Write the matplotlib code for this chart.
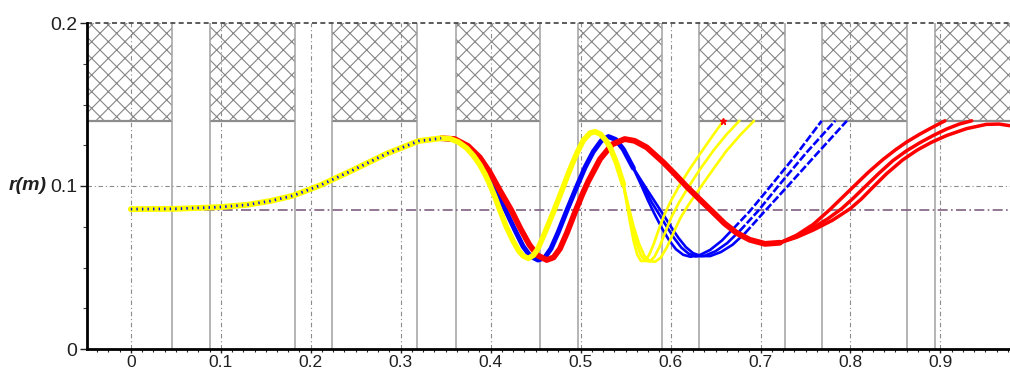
import matplotlib
matplotlib.use("Agg")
import matplotlib.pyplot as plt
from matplotlib.patches import Rectangle

plt.rcParams['font.family'] = ['Liberation Sans', 'DejaVu Sans']
plt.rcParams['hatch.linewidth'] = 0.8

# ---------------- data ----------------
x_tick_values = [0, 0.1, 0.2, 0.3, 0.4, 0.5, 0.6, 0.7, 0.8, 0.9]
x_tick_labels = ["0", "0.1", "0.2", "0.3", "0.4", "0.5", "0.6", "0.7", "0.8", "0.9"]
y_tick_values = [0, 0.1, 0.2]
y_tick_labels = ["0", "0.1", "0.2"]

# hatched (forbidden) zones above r = 0.14
hatch_left = [-0.0487, 0.088, 0.224, 0.361, 0.497, 0.632, 0.768, 0.8942]
hatch_right = [0.0458, 0.182, 0.318, 0.4547, 0.5906, 0.7267, 0.8632, 0.9773]
hatch_bottom = 0.14
reference_radius = 0.085

# common start of all trajectories
common_x = [0.0, 0.05, 0.10, 0.13, 0.155, 0.18, 0.21, 0.247, 0.285, 0.32, 0.345]
common_y = [0.0858, 0.0860, 0.0871, 0.0885, 0.0908, 0.0940, 0.1003, 0.1098, 0.1200, 0.1276, 0.1293]

# yellow group
yellow_trunk_x = [0.345, 0.355, 0.364, 0.3734, 0.381, 0.388, 0.394, 0.399, 0.405, 0.410, 0.417,
                  0.4252, 0.4315, 0.4363, 0.442, 0.4475, 0.452, 0.4585, 0.4645, 0.4705, 0.4808,
                  0.488, 0.4957, 0.503, 0.5105, 0.516, 0.522, 0.528, 0.5327, 0.540, 0.5475]
yellow_trunk_y = [0.1293, 0.1290, 0.1270, 0.1232, 0.1185, 0.1130, 0.1070, 0.1010, 0.0930, 0.0855, 0.0755,
                  0.0660, 0.0600, 0.0570, 0.0556, 0.0575, 0.0610, 0.0690, 0.0770, 0.0850, 0.0996,
                  0.1100, 0.1200, 0.1280, 0.1325, 0.1333, 0.1318, 0.1280, 0.1240, 0.1140, 0.1010]
yellow_branch_x = [
    [0.5475, 0.551, 0.555, 0.559, 0.563, 0.567, 0.571, 0.576, 0.581, 0.587, 0.5935, 0.600,
     0.610, 0.622, 0.635, 0.647, 0.6587],
    [0.5475, 0.552, 0.557, 0.562, 0.567, 0.572, 0.577, 0.582, 0.588, 0.594, 0.601, 0.609,
     0.620, 0.633, 0.648, 0.662, 0.6765],
    [0.5475, 0.553, 0.559, 0.565, 0.571, 0.577, 0.583, 0.589, 0.596, 0.603, 0.611, 0.620,
     0.633, 0.647, 0.662, 0.677, 0.6928],
]
yellow_branch_y = [
    [0.1010, 0.0900, 0.0775, 0.0660, 0.0578, 0.0540, 0.0540, 0.0575, 0.0640, 0.0735, 0.0830, 0.0905,
     0.1005, 0.1110, 0.1215, 0.1310, 0.1400],
    [0.1010, 0.0890, 0.0760, 0.0650, 0.0575, 0.0540, 0.0538, 0.0565, 0.0630, 0.0715, 0.0810, 0.0895,
     0.0995, 0.1105, 0.1220, 0.1315, 0.1400],
    [0.1010, 0.0880, 0.0750, 0.0645, 0.0570, 0.0538, 0.0536, 0.0560, 0.0625, 0.0710, 0.0805, 0.0885,
     0.0990, 0.1100, 0.1215, 0.1310, 0.1400],
]

# blue group
blue_trunk_x = [0.345, 0.360, 0.3734, 0.386, 0.397, 0.408, 0.417, 0.427, 0.436, 0.444, 0.4527,
                0.460, 0.467, 0.475, 0.4845, 0.4957, 0.505, 0.514, 0.523, 0.531, 0.539, 0.5475, 0.5586]
blue_trunk_y = [0.1293, 0.1285, 0.1240, 0.1165, 0.1070, 0.0950, 0.0847, 0.0730, 0.0630, 0.0570, 0.0546,
                0.0560, 0.0615, 0.0715, 0.0847, 0.0996, 0.1115, 0.1210, 0.1278, 0.1303, 0.1285, 0.1225, 0.1110]
blue_branch_x = [
    [0.5586, 0.567, 0.575, 0.582, 0.590, 0.598, 0.606, 0.614, 0.622, 0.632, 0.644, 0.657, 0.670,
     0.688, 0.7105, 0.740, 0.768],
    [0.5586, 0.570, 0.579, 0.588, 0.596, 0.604, 0.612, 0.620, 0.628, 0.638, 0.650, 0.663, 0.677,
     0.697, 0.719, 0.751, 0.783],
    [0.5586, 0.573, 0.583, 0.593, 0.601, 0.609, 0.617, 0.625, 0.634, 0.644, 0.656, 0.669, 0.683,
     0.703, 0.7295, 0.763, 0.796],
]
blue_branch_y = [
    [0.1110, 0.1010, 0.0910, 0.0830, 0.0745, 0.0670, 0.0612, 0.0578, 0.0566, 0.0575, 0.0608, 0.0665, 0.0740,
     0.0845, 0.0995, 0.1195, 0.1400],
    [0.1110, 0.0995, 0.0900, 0.0820, 0.0748, 0.0680, 0.0622, 0.0585, 0.0568, 0.0572, 0.0600, 0.0650, 0.0725,
     0.0845, 0.0995, 0.1205, 0.1400],
    [0.1110, 0.0985, 0.0900, 0.0815, 0.0745, 0.0680, 0.0625, 0.0588, 0.0570, 0.0570, 0.0595, 0.0640, 0.0712,
     0.0835, 0.0995, 0.1200, 0.1400],
]

# red group
red_trunk_x = [0.345, 0.360, 0.375, 0.388, 0.399, 0.410, 0.4234, 0.433, 0.443, 0.452, 0.4623, 0.470,
               0.477, 0.485, 0.4938, 0.502, 0.5086, 0.5216, 0.535, 0.549, 0.560, 0.5735, 0.592, 0.605,
               0.618, 0.632, 0.647, 0.660, 0.6735, 0.688, 0.705, 0.7216]
red_trunk_y = [0.1293, 0.1288, 0.1245, 0.1175, 0.1085, 0.0975, 0.0847, 0.0740, 0.0640, 0.0575, 0.0546, 0.0562,
               0.0615, 0.0715, 0.0840, 0.0950, 0.1030, 0.1165, 0.1255, 0.1288, 0.1277, 0.1237, 0.1145, 0.1072,
               0.0996, 0.0920, 0.0840, 0.0770, 0.0712, 0.0670, 0.0645, 0.0652]
red_branch_x = [
    [0.7216, 0.740, 0.7587, 0.777, 0.791, 0.805, 0.820, 0.836, 0.850, 0.8625, 0.877, 0.891, 0.905],
    [0.7216, 0.740, 0.7587, 0.775, 0.790, 0.803, 0.816, 0.831, 0.847, 0.862, 0.877, 0.892, 0.907,
     0.921, 0.9347],
    [0.7216, 0.740, 0.7587, 0.780, 0.7995, 0.812, 0.8236, 0.840, 0.858, 0.874, 0.890, 0.907, 0.929,
     0.951, 0.965, 0.977],
]
red_branch_y = [
    [0.0652, 0.0698, 0.0765, 0.0855, 0.0930, 0.1005, 0.1085, 0.1162, 0.1222, 0.1270, 0.1318, 0.1360, 0.1400],
    [0.0652, 0.0690, 0.0745, 0.0800, 0.0860, 0.0925, 0.0995, 0.1075, 0.1155, 0.1215, 0.1265, 0.1310, 0.1350,
     0.1380, 0.1400],
    [0.0652, 0.0685, 0.0730, 0.0790, 0.0860, 0.0920, 0.0985, 0.1075, 0.1160, 0.1220, 0.1268, 0.1310, 0.1352,
     0.1378, 0.1380, 0.1370],
]

YELLOW = "#FFFF00"
BLUE = "#0000FF"
RED = "#FF0000"

# ---------------- figure ----------------
W, H = 1010, 373
fig = plt.figure(figsize=(W / 100, H / 100), dpi=100)
ax = fig.add_axes([87 / W, 24 / H, (W - 87) / W, 326 / H])
ax.set_xlim(-0.0487, 0.9773)
ax.set_ylim(0, 0.2)

# hatched zones
for l, r in zip(hatch_left, hatch_right):
    ax.add_patch(Rectangle((l, hatch_bottom), r - l, 0.2 - hatch_bottom, facecolor="white",
                           edgecolor="#858585", linewidth=0, hatch="xx", zorder=1))
    ax.plot([l, r], [hatch_bottom, hatch_bottom], color="#8c8c8c", lw=1.6, zorder=1.2,
            solid_capstyle="butt")
# vertical boundaries of zones (full height)
for v in hatch_left[1:] + hatch_right[:-1]:
    ax.axvline(v, color="#a0a0a0", lw=1.1, zorder=1.3)

# grid
dashdot = (0, (4, 2.5, 1, 2.5))
for xv in x_tick_values:
    ax.axvline(xv, color="#8c8c8c", lw=0.8, ls=dashdot, zorder=1.4)
ax.axhline(0.1, color="#8c8c8c", lw=0.8, ls=dashdot, zorder=1.4)
ax.axhline(0.2, color="#404040", lw=1.2, ls=(0, (3, 2)), zorder=1.4, clip_on=False)

# reference radius line
ax.plot([0, 0.9773], [reference_radius, reference_radius], color="#806080", lw=1.2,
        ls=(0, (6, 2, 1, 2)), zorder=1.6)

# trajectories
rnd = dict(solid_capstyle="round", solid_joinstyle="round")
for bx, by in zip(blue_branch_x, blue_branch_y):
    imin = by.index(min(by))
    cut = next(i for i in range(imin, len(by)) if by[i] > 0.07)
    ax.plot(bx[:cut + 1], by[:cut + 1], color=BLUE, lw=1.9, zorder=3, **rnd)
    ax.plot(bx[cut:], by[cut:], color=BLUE, lw=1.9, zorder=3, ls=(0, (3, 0.9)))
ax.plot(blue_trunk_x, blue_trunk_y, color=BLUE, lw=3.6, zorder=3.1, **rnd)
for bx, by in zip(yellow_branch_x, yellow_branch_y):
    ax.plot(bx, by, color=YELLOW, lw=1.9, zorder=3.5, **rnd)
for bx, by in zip(red_branch_x, red_branch_y):
    ax.plot(bx, by, color=RED, lw=2.5, zorder=4, **rnd)
ax.plot(red_trunk_x, red_trunk_y, color=RED, lw=4.2, zorder=4.1, **rnd)
ax.plot(yellow_trunk_x, yellow_trunk_y, color=YELLOW, lw=4.0, zorder=5, **rnd)
ax.plot(common_x, common_y, color=YELLOW, lw=4.2, zorder=6, **rnd)
ax.plot(common_x, common_y, color=BLUE, lw=2.0, zorder=6.1, ls=(0, (0.5, 1.5)))
ax.plot([yellow_branch_x[0][-1]], [yellow_branch_y[0][-1]], marker="*", color=RED, ms=5, zorder=7)

# axes styling
for s in ["top", "right"]:
    ax.spines[s].set_visible(False)
ax.spines["left"].set_linewidth(2.0)
ax.spines["bottom"].set_linewidth(2.0)
ax.set_xticks(x_tick_values)
ax.set_xticklabels(x_tick_labels)
ax.set_yticks(y_tick_values)
ax.set_yticklabels(y_tick_labels)
ax.set_xticks([i * 0.0125 for i in range(-3, 79)], minor=True)
ax.set_yticks([0.025, 0.05, 0.075, 0.125, 0.15, 0.175], minor=True)
ax.tick_params(axis="x", which="major", length=3, width=1, pad=1.5, labelsize=12.5, colors="#202020")
ax.tick_params(axis="x", which="minor", length=2.5, width=0.8, direction="out", colors="#202020")
ax.tick_params(axis="y", which="major", length=5, width=1, pad=2, labelsize=14, colors="#202020")
ax.tick_params(axis="y", which="minor", length=3, width=0.8, direction="out", colors="#404040")

ax.annotate("r(m)", xy=(47 / W, 0.1), xycoords=("figure fraction", "data"),
            ha="right", va="center", fontsize=14, fontweight="bold", fontstyle="italic",
            color="#202020")

fig.savefig("out.png", dpi=100, facecolor="white")
